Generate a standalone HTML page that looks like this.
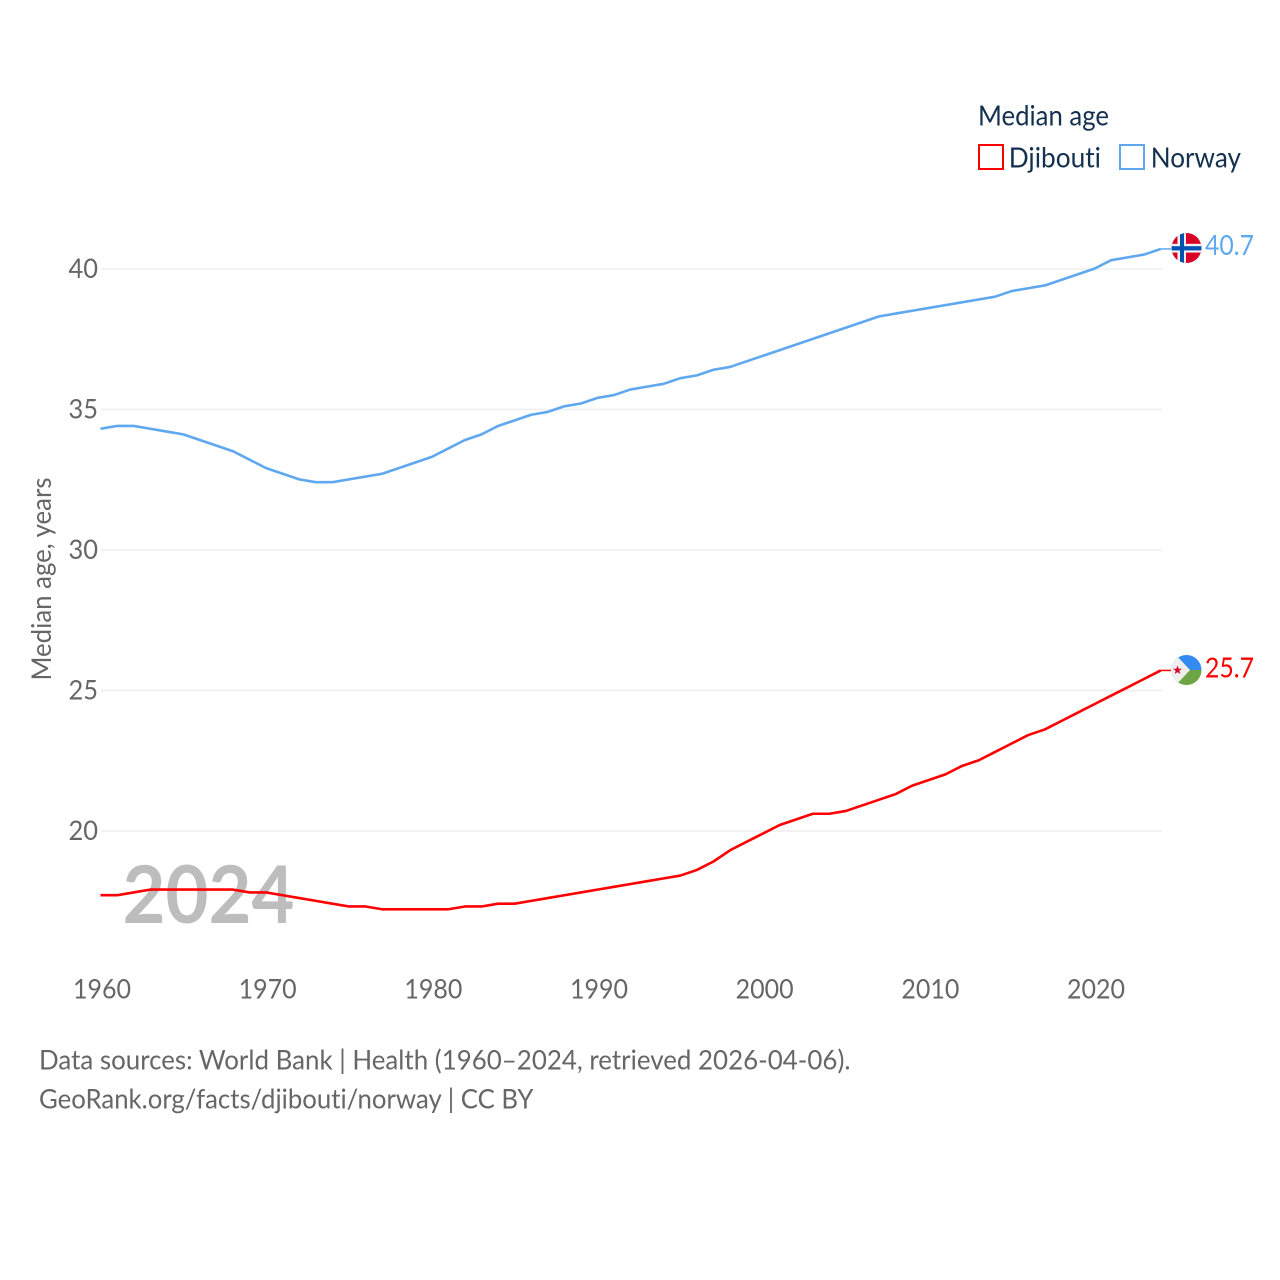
<!DOCTYPE html>
<html lang="en">
<head>
<meta charset="utf-8">
<title>Median age: Djibouti and Norway</title>
<style>
html,body{margin:0;padding:0;background:#fff;width:1280px;height:1280px;overflow:hidden}
svg{display:block}
text{font-family:"Lato","Carlito","Liberation Sans",sans-serif;font-variant-ligatures:none}
</style>
</head>
<body>
<svg id="chart" xmlns="http://www.w3.org/2000/svg" width="1280" height="1280" viewBox="0 0 1280 1280">
  <defs>
    <clipPath id="clip-no"><circle cx="1186.5" cy="248" r="15"/></clipPath>
    <clipPath id="clip-dj"><circle cx="1186.5" cy="670" r="15"/></clipPath>
  </defs>
  <rect width="1280" height="1280" fill="#fff"/>
  <g id="grid"></g>
  <g id="yticks"></g>
  <g id="xticks"></g>
  <text x="122.5" y="923" font-size="80" font-weight="700" fill="#bdbdbd" textLength="172" lengthAdjust="spacingAndGlyphs">2024</text>
  <text transform="translate(51,680.5) rotate(-90)" font-size="27" fill="#666" textLength="203" lengthAdjust="spacingAndGlyphs">Median age, years</text>
  <g id="series"></g>

  <g clip-path="url(#clip-no)">
    <rect x="1171" y="233" width="31" height="31" fill="#d80027"/>
    <rect x="1177.5" y="233" width="8.5" height="31" fill="#f0f0f0"/>
    <rect x="1171" y="243.8" width="31" height="8.8" fill="#f0f0f0"/>
    <rect x="1180" y="233" width="4" height="31" fill="#0052b4"/>
    <rect x="1171" y="246.2" width="31" height="4.2" fill="#0052b4"/>
  </g>
  <g clip-path="url(#clip-dj)">
    <rect x="1171" y="655" width="31" height="15" fill="#338af3"/>
    <rect x="1171" y="670" width="31" height="15" fill="#6da544"/>
    <polygon points="1171,655 1176,655 1190,670 1176,685 1171,685" fill="#eeeeee"/>
    <polygon points="1177.5,665.5 1178.7,668.8 1182,668.8 1179.3,670.8 1180.3,674 1177.5,672.1 1174.7,674 1175.7,670.8 1173,668.8 1176.3,668.8" fill="#d80027"/>
  </g>
  <text x="1205" y="255" font-size="28" fill="#5fa8f0" textLength="49" lengthAdjust="spacingAndGlyphs">40.7</text>
  <text x="1205" y="677.3" font-size="28" fill="#ff0000" textLength="49" lengthAdjust="spacingAndGlyphs">25.7</text>

  <g>
    <text x="978" y="125.3" font-size="28" fill="#14304f" textLength="131" lengthAdjust="spacingAndGlyphs">Median age</text>
    <rect x="979" y="145" width="24" height="24" fill="#fff" stroke="#ff0000" stroke-width="2"/>
    <text x="1008.7" y="167.3" font-size="28" fill="#14304f" textLength="92.3" lengthAdjust="spacingAndGlyphs">Djibouti</text>
    <rect x="1120" y="145" width="24" height="24" fill="#fff" stroke="#5fa8f0" stroke-width="2"/>
    <text x="1150.7" y="167.3" font-size="28" fill="#14304f" textLength="90.3" lengthAdjust="spacingAndGlyphs">Norway</text>
  </g>

  <text x="39" y="1069.7" font-size="27.5" fill="#666" textLength="811.5" lengthAdjust="spacingAndGlyphs">Data sources: World Bank | Health (1960–2024, retrieved 2026-04-06).</text>
  <text x="39" y="1108.7" font-size="27.5" fill="#666" textLength="494.5" lengthAdjust="spacingAndGlyphs">GeoRank.org/facts/djibouti/norway | CC BY</text>
</svg>
<script>
const startYear = 1960;
const xTickLabels = [1960, 1970, 1980, 1990, 2000, 2010, 2020];
const yTickLabels = [20, 25, 30, 35, 40];
const norwayValues = [34.3,34.4,34.4,34.3,34.2,34.1,33.9,33.7,33.5,33.2,32.9,32.7,32.5,32.4,32.4,32.5,32.6,32.7,32.9,33.1,33.3,33.6,33.9,34.1,34.4,34.6,34.8,34.9,35.1,35.2,35.4,35.5,35.7,35.8,35.9,36.1,36.2,36.4,36.5,36.7,36.9,37.1,37.3,37.5,37.7,37.9,38.1,38.3,38.4,38.5,38.6,38.7,38.8,38.9,39.0,39.2,39.3,39.4,39.6,39.8,40.0,40.3,40.4,40.5,40.7];
const djiboutiValues = [17.7,17.7,17.8,17.9,17.9,17.9,17.9,17.9,17.9,17.8,17.8,17.7,17.6,17.5,17.4,17.3,17.3,17.2,17.2,17.2,17.2,17.2,17.3,17.3,17.4,17.4,17.5,17.6,17.7,17.8,17.9,18.0,18.1,18.2,18.3,18.4,18.6,18.9,19.3,19.6,19.9,20.2,20.4,20.6,20.6,20.7,20.9,21.1,21.3,21.6,21.8,22.0,22.3,22.5,22.8,23.1,23.4,23.6,23.9,24.2,24.5,24.8,25.1,25.4,25.7];

const NS = 'http://www.w3.org/2000/svg';
const xScale = function (year) { return 102 + (year - 1960) * (1096 - 102) / 60; };
const lineX = function (year) { return xScale(year) - 1.5; };
const yScale = function (v) { return 269 + (40 - v) * (831 - 269) / 20; };
const lineY = function (v) { return yScale(v) - 0.4; };
const gridGroup = document.getElementById('grid');
const yGroup = document.getElementById('yticks');
const xGroup = document.getElementById('xticks');
const seriesGroup = document.getElementById('series');

yTickLabels.forEach(function (t) {
  const line = document.createElementNS(NS, 'line');
  
  
  line.setAttribute('x1', 101);
  line.setAttribute('x2', 1162);
  line.setAttribute('y1', yScale(t));
  line.setAttribute('y2', yScale(t));
  line.setAttribute('stroke', '#eeeeee');
  line.setAttribute('stroke-width', '1.5');
  gridGroup.appendChild(line);
  const label = document.createElementNS(NS, 'text');
  
  
  label.setAttribute('x', 98);
  label.setAttribute('y', yScale(t) + 8.8);
  label.setAttribute('text-anchor', 'end');
  label.setAttribute('font-size', '27.5');
  label.setAttribute('fill', '#666');
  label.setAttribute('textLength', '29.5');
  label.setAttribute('lengthAdjust', 'spacingAndGlyphs');
  label.textContent = t;
  yGroup.appendChild(label);
});

xTickLabels.forEach(function (t) {
  const label = document.createElementNS(NS, 'text');
  
  
  label.setAttribute('x', xScale(t));
  label.setAttribute('y', 998.3);
  label.setAttribute('text-anchor', 'middle');
  label.setAttribute('font-size', '27.5');
  label.setAttribute('fill', '#666');
  label.setAttribute('textLength', '58');
  label.setAttribute('lengthAdjust', 'spacingAndGlyphs');
  label.textContent = t;
  xGroup.appendChild(label);
});

function drawSeries(values, color, lineName, connectorName) {
  const pts = values.map(function (v, i) {
    return lineX(startYear + i).toFixed(2) + ',' + lineY(v).toFixed(2);
  }).join(' ');
  const poly = document.createElementNS(NS, 'polyline');
  
  
  poly.setAttribute('points', pts);
  poly.setAttribute('fill', 'none');
  poly.setAttribute('stroke', color);
  poly.setAttribute('stroke-width', '2.6');
  poly.setAttribute('stroke-linejoin', 'round');
  seriesGroup.appendChild(poly);
  const lastIndex = values.length - 1;
  const connector = document.createElementNS(NS, 'line');
  
  
  connector.setAttribute('x1', lineX(startYear + lastIndex));
  connector.setAttribute('x2', 1171);
  connector.setAttribute('y1', lineY(values[lastIndex]));
  connector.setAttribute('y2', lineY(values[lastIndex]));
  connector.setAttribute('stroke', color);
  connector.setAttribute('stroke-width', '1.5');
  seriesGroup.appendChild(connector);
}
drawSeries(djiboutiValues, '#ff0000', 'djibouti-line', 'djibouti-connector');
drawSeries(norwayValues, '#5fa8f0', 'norway-line', 'norway-connector');
</script>
</body>
</html>
